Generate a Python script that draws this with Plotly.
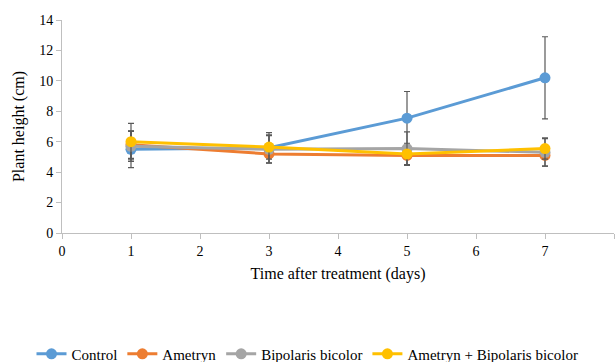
import plotly.graph_objects as go

days = [1, 3, 5, 7]
series_names = ["Control", "Ametryn", "Bipolaris bicolor", "Ametryn + Bipolaris bicolor"]
control = [5.5, 5.6, 7.55, 10.2]
ametryn = [5.8, 5.2, 5.1, 5.1]
bipolaris = [5.7, 5.5, 5.55, 5.3]
combo = [6.0, 5.65, 5.2, 5.55]
control_err = [1.2, 1.0, 1.75, 2.7]
ametryn_err = [0.9, 0.6, 0.6, 0.7]
bipolaris_err = [1.0, 0.9, 1.1, 0.9]
combo_err = [1.2, 0.8, 0.7, 0.7]
colors = ["#5B9BD5", "#ED7D31", "#A5A5A5", "#FFC000"]
x_ticks = [0, 1, 2, 3, 4, 5, 6, 7, 8]
y_ticks = [0, 2, 4, 6, 8, 10, 12, 14]

SERIF = "Liberation Serif, Times New Roman, serif"

fig = go.Figure()
for name, vals, errs, col in zip(series_names, [control, ametryn, bipolaris, combo],
                                 [control_err, ametryn_err, bipolaris_err, combo_err], colors):
    fig.add_trace(go.Scatter(
        x=days, y=vals, name=name, mode="lines+markers",
        line=dict(color=col, width=3),
        marker=dict(color=col, size=11),
        error_y=dict(type="data", array=errs, visible=True, color="#595959", thickness=1.2, width=3),
    ))

fig.add_annotation(x=7, y=14.3, text="*", showarrow=False, xref="x", yref="y",
                   font=dict(family=SERIF, size=15, color="black"))

fig.update_layout(
    width=615, height=362,
    margin=dict(l=62, r=1, t=20, b=129, autoexpand=False),
    paper_bgcolor="white", plot_bgcolor="white",
    font=dict(family=SERIF, size=14, color="black"),
    showlegend=True,
    legend=dict(orientation="h", x=0.5, xanchor="center", xref="container",
                y=0.022, yanchor="middle", yref="container",
                font=dict(family=SERIF, size=15, color="black"),
                itemwidth=30, tracegroupgap=0),
)
fig.update_xaxes(range=[0, 8], tickvals=x_ticks, showgrid=False, zeroline=False,
                 showline=True, linecolor="#BFBFBF", linewidth=1,
                 ticks="outside", tickcolor="#BFBFBF", ticklen=5,
                 tickfont=dict(family=SERIF, size=14, color="black"), automargin=False,
                 title=dict(text="Time after treatment (days)", font=dict(family=SERIF, size=16), standoff=10))
fig.update_yaxes(range=[0, 14], tickvals=y_ticks, showgrid=False, zeroline=False,
                 showline=True, linecolor="#BFBFBF", linewidth=1,
                 ticks="outside", tickcolor="#BFBFBF", ticklen=5,
                 tickfont=dict(family=SERIF, size=14, color="black"), automargin=False,
                 title=dict(text="Plant height (cm)", font=dict(family=SERIF, size=16), standoff=10))

fig.write_html("out.html")
